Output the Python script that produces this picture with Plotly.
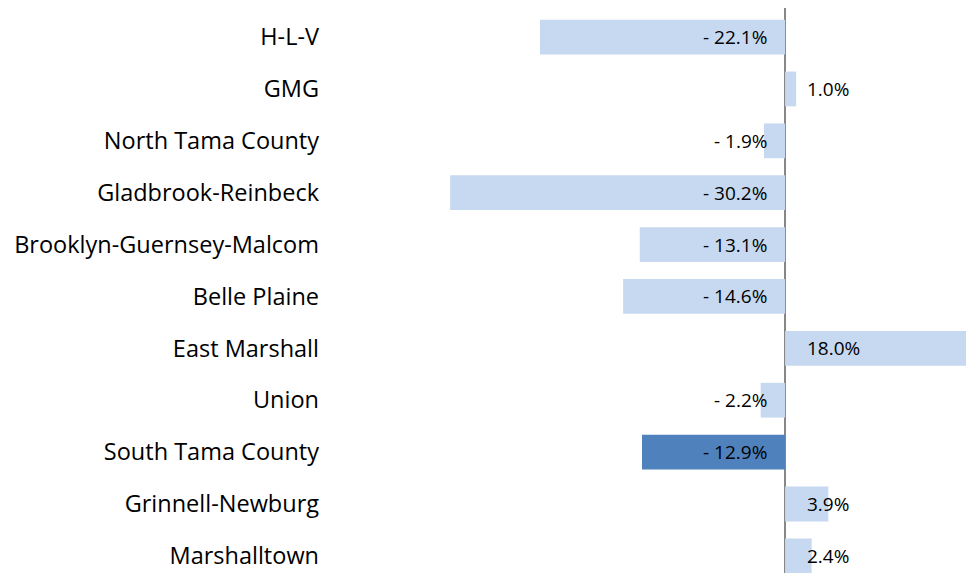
import plotly.graph_objects as go

categories = ["H-L-V", "GMG", "North Tama County", "Gladbrook-Reinbeck",
              "Brooklyn-Guernsey-Malcom", "Belle Plaine", "East Marshall",
              "Union", "South Tama County", "Grinnell-Newburg", "Marshalltown"]
values = [-22.1, 1.0, -1.9, -30.2, -13.1, -14.6, 18.0, -2.2, -12.9, 3.9, 2.4]
highlight = "South Tama County"

light = "#C6D9F1"
dark = "#4F81BD"
colors = [dark if c == highlight else light for c in categories]

fig = go.Figure()
fig.add_trace(go.Bar(
    y=categories, x=values, orientation="h",
    marker=dict(color=colors, line=dict(width=0)),
    hoverinfo="skip",
))

annotations = []
for c, v in zip(categories, values):
    txt = f"- {abs(v):.1f}%" if v < 0 else f"{v:.1f}%"
    annotations.append(dict(
        x=0, y=c, xref="x", yref="y", text=txt, showarrow=False,
        xanchor="right" if v < 0 else "left",
        xshift=-16 if v < 0 else 20,
        font=dict(family="Open Sans, sans-serif", size=19, color="#000000"),
    ))

fig.update_layout(
    width=1000, height=565,
    margin=dict(l=322, r=0, t=0, b=0),
    paper_bgcolor="white", plot_bgcolor="white",
    showlegend=False,
    bargap=0.33,
    annotations=annotations,
    xaxis=dict(range=[-41.03, 20.1], showgrid=False, showticklabels=False,
               zeroline=True, zerolinecolor="#878787", zerolinewidth=2,
               showline=False, ticks=""),
    yaxis=dict(type="category", range=[10.33, -0.56], showgrid=False,
               ticks="", ticklabelstandoff=10,
               tickfont=dict(family="Open Sans, sans-serif", size=23.5, color="#000000")),
)

fig.write_html("out.html")
